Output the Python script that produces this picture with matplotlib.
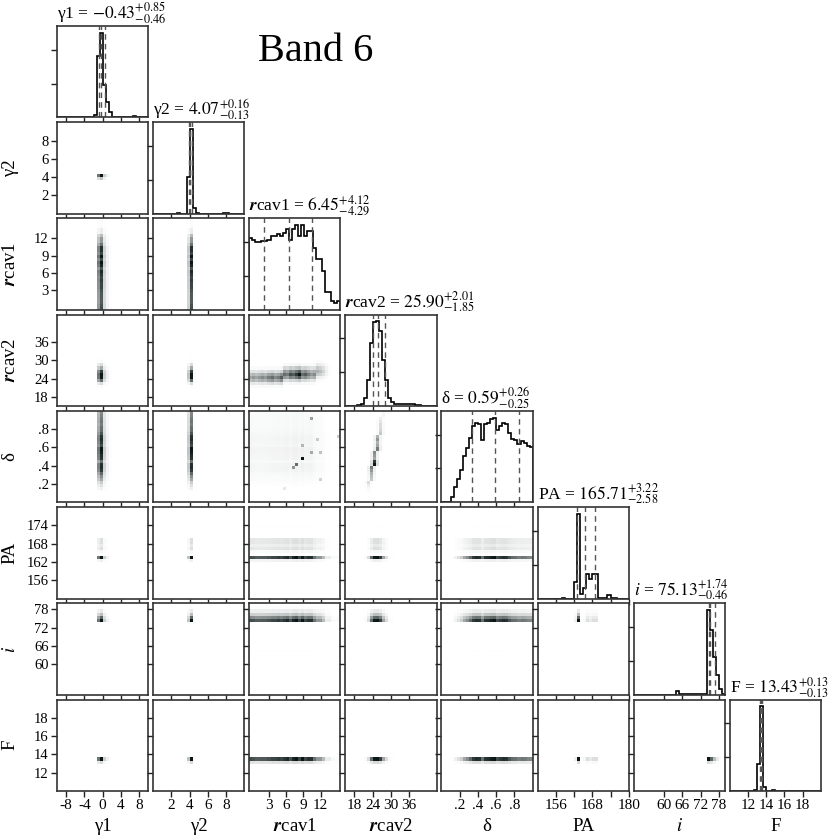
import numpy as np
import matplotlib.pyplot as plt
from matplotlib.colors import LinearSegmentedColormap, PowerNorm
from matplotlib.ticker import MaxNLocator

plt.rcParams['font.family'] = ['Liberation Serif', 'DejaVu Serif']
plt.rcParams['mathtext.fontset'] = 'stix'
plt.rcParams['axes.unicode_minus'] = False

# parametros do ajuste
names = ['γ1', 'γ2', r'$\mathbfit{r}$cav1', r'$\mathbfit{r}$cav2', 'δ', 'PA', r'$i$', 'F']
medians = [-0.43, 4.07, 6.45, 25.90, 0.59, 165.71, 75.13, 13.43]
err_up = [0.85, 0.16, 4.12, 2.01, 0.26, 3.22, 1.74, 0.13]
err_lo = [0.46, 0.13, 4.29, 1.85, 0.25, 2.58, 0.46, 0.13]
ranges = [(-10, 10), (0, 10), (-0.5, 15.5), (15, 45), (0, 1), (150, 180), (50, 80), (10, 20)]

xticks = [[-8, -4, 0, 4, 8], [2, 4, 6, 8], [3, 6, 9, 12], [18, 24, 30, 36],
          [0.2, 0.4, 0.6, 0.8], [156, 162, 168, 174, 180], [60, 66, 72, 78], [12, 14, 16, 18]]
xticklabels = [['-8', '-4', '0', '4', '8'], ['2', '4', '6', '8'], ['3', '6', '9', '12'],
               ['18', '24', '30', '36'], ['.2', '.4', '.6', '.8'], ['156', '', '168', '', '180'],
               ['60', '66', '72', '78'], ['12', '14', '16', '18']]
yticks = [[], [2, 4, 6, 8], [3, 6, 9, 12], [18, 24, 30, 36], [0.2, 0.4, 0.6, 0.8],
          [156, 162, 168, 174], [60, 66, 72, 78], [12, 14, 16, 18]]
yticklabels = [[], ['2', '4', '6', '8'], ['3', '6', '9', '12'], ['18', '24', '30', '36'],
               ['.2', '.4', '.6', '.8'], ['156', '162', '168', '174'],
               ['60', '66', '72', '78'], ['12', '14', '16', '18']]

# histogramas 1D (30 bins em cada intervalo), altura relativa
hist_g1 = [0, 0, 0, 0, 0, 0, 0, 0, 0, 0,
           0, 0, 0.03, 0.72, 1.0, 0.38, 0.18, 0.06, 0.01, 0.01,
           0, 0, 0, 0, 0, 0.02, 0, 0, 0, 0]
hist_g2 = [0, 0, 0, 0, 0, 0, 0, 0, 0.01, 0,
           0, 0.43, 1.0, 0.07, 0.01, 0, 0, 0, 0, 0,
           0, 0, 0, 0.01, 0.01, 0, 0, 0, 0, 0]
hist_rc1 = [0.85, 0.83, 0.80, 0.80, 0.81, 0.81, 0.83, 0.87, 0.87, 0.90,
            0.87, 0.91, 0.95, 0.83, 0.96, 1.0, 0.87, 1.0, 0.87, 0.93,
            0.93, 0.73, 0.60, 0.60, 0.46, 0.21, 0.21, 0.10, 0.08, 0.10]
hist_rc2 = [0, 0, 0, 0, 0.01, 0.03, 0.09, 0.31, 0.75, 0.99,
            1.0, 0.89, 0.55, 0.31, 0.09, 0.05, 0.02, 0.03, 0.02, 0.02,
            0.02, 0.02, 0.02, 0.01, 0.01, 0, 0, 0, 0, 0]
hist_delta = [0, 0, 0, 0.06, 0.18, 0.28, 0.38, 0.55, 0.64, 0.76,
              0.90, 0.94, 0.93, 0.74, 0.92, 0.94, 0.98, 1.0, 0.85, 0.90,
              0.94, 0.92, 0.82, 0.75, 0.74, 0.69, 0.72, 0.70, 0.67, 0.65]
hist_pa = [0, 0, 0, 0, 0, 0, 0, 0, 0.01, 0,
           0, 0, 0.19, 1.0, 0.05, 0.13, 0.29, 0.23, 0.29, 0.29,
           0.01, 0.01, 0.01, 0.04, 0.01, 0.01, 0, 0, 0, 0]
hist_inc = [0, 0, 0, 0, 0, 0, 0, 0, 0, 0,
            0, 0, 0, 0, 0.04, 0.01, 0.005, 0.005, 0.005, 0.005,
            0.005, 0.01, 0.005, 0.01, 1.0, 0.77, 0.45, 0.23, 0.07, 0.01]
hist_f = [0, 0, 0, 0, 0, 0, 0, 0, 0.01, 0.32,
          1.0, 0.05, 0, 0, 0.01, 0, 0, 0, 0, 0,
          0, 0, 0, 0, 0, 0, 0, 0, 0, 0]
hists = [hist_g1, hist_g2, hist_rc1, hist_rc2, hist_delta, hist_pa, hist_inc, hist_f]

# faixa rcav2 x rcav1: centro em rcav2 e intensidade por bin de rcav1
band_center = [24.2, 24.3, 24.3, 24.4, 24.5, 24.5, 24.6, 24.7, 24.8, 24.9,
               24.9, 25.0, 25.1, 25.2, 25.3, 25.3, 25.4, 25.5, 25.6, 25.7,
               25.8, 25.9, 26.1, 26.3, 26.5, 26.7, 26.8, 27.0, 27.1, 27.2]
band_weight = [0.55, 0.6, 0.55, 0.6, 0.65, 0.6, 0.7, 0.75, 0.65, 0.7,
               0.8, 0.75, 0.7, 0.85, 0.8, 0.9, 1.0, 0.75, 0.8, 0.7,
               0.6, 0.65, 0.5, 0.45, 0.35, 0.2, 0.08, 0.03, 0.02, 0.01]
band_offsets = [-3, -2, -1, 0, 1, 2, 3]
band_profile = [0.15, 0.4, 0.8, 1.0, 0.8, 0.45, 0.15]

# linha delta x rcav2: centro em rcav2 e intensidade por bin de delta
line_center = [21.7, 21.9, 22.1, 22.3, 22.5, 22.7, 22.9, 23.1, 23.3, 23.5,
               23.7, 23.9, 24.1, 24.3, 24.5, 24.6, 24.8, 25.0, 25.2, 25.4,
               25.6, 25.8, 26.0, 26.2, 26.3, 26.5, 26.7, 26.9, 27.1, 27.3]
line_weight = [0, 0, 0.02, 0.05, 0.12, 0.2, 0.3, 0.4, 0.45, 0.5,
               0.6, 0.7, 1.0, 0.9, 0.55, 0.6, 0.65, 0.7, 0.55, 0.5,
               0.6, 0.5, 0.4, 0.35, 0.3, 0.3, 0.25, 0.2, 0.15, 0.12]
line_offsets = [-1, 0, 1]
line_profile = [0.3, 1.0, 0.3]

# delta x rcav1: fundo fraco e alguns pixels escuros
spot_rc1 = [8.87, 7.76, 7.1, 10.4, 10.4, 12.1, 11.7, 8.87, 12.2, 5.5, 15.3]
spot_delta = [0.48, 0.41, 0.38, 0.91, 0.54, 0.54, 0.69, 0.62, 0.25, 0.15, 0.73]
spot_weight = [1.0, 0.7, 0.55, 0.55, 0.45, 0.4, 0.35, 0.4, 0.35, 0.25, 0.45]
background_level = 0.22

nbins = 30
edges = [np.linspace(lo, hi, nbins + 1) for lo, hi in ranges]
centers = [0.5 * (e[1:] + e[:-1]) for e in edges]

density_cmap = LinearSegmentedColormap.from_list('density', ['white', '#0a1616'])


def joint_samples(r, c):
    if (r, c) == (3, 2):
        xs, ys, ws = [], [], []
        for k in range(nbins):
            for d, p in zip(band_offsets, band_profile):
                xs.append(centers[2][k])
                ys.append(band_center[k] + d)
                ws.append(band_weight[k] * p)
        return np.array(xs), np.array(ys), np.array(ws)
    if (r, c) == (4, 3):
        xs, ys, ws = [], [], []
        for k in range(nbins):
            for d, p in zip(line_offsets, line_profile):
                xs.append(line_center[k] + d)
                ys.append(centers[4][k])
                ws.append(line_weight[k] * p)
        return np.array(xs), np.array(ys), np.array(ws)
    X, Y = np.meshgrid(centers[c], centers[r])
    W = np.outer(hists[r], hists[c])
    xs, ys, ws = X.ravel(), Y.ravel(), W.ravel()
    if (r, c) == (4, 2):
        ws = ws * background_level
        xs = np.concatenate([xs, spot_rc1])
        ys = np.concatenate([ys, spot_delta])
        ws = np.concatenate([ws, spot_weight])
    return xs, ys, ws


n = len(names)
fig, axes = plt.subplots(n, n, figsize=(8.3, 8.38), dpi=100)
fig.subplots_adjust(left=57 / 830, right=821 / 830, bottom=47 / 838, top=812 / 838,
                    wspace=0.053, hspace=0.053)

for r in range(n):
    for c in range(n):
        ax = axes[r, c]
        if c > r:
            ax.set_visible(False)
            continue
        if c == r:
            ax.hist(centers[c], bins=edges[c], weights=hists[c], histtype='step',
                    color='k', lw=1.2)
            q = [medians[c] - err_lo[c], medians[c], medians[c] + err_up[c]]
            for v in q:
                ax.axvline(v, color='#555555', ls=(0, (4, 3)), lw=1.0)
            ax.set_ylim(0, 1.08 * max(hists[c]))
            ax.yaxis.set_major_locator(MaxNLocator(3, prune='lower'))
            ax.set_yticklabels([])
            title = names[c] + ' = $%.2f^{+%.2f}_{-%.2f}$' % (medians[c], err_up[c], err_lo[c])
            title = title.replace('$-', '$\u2212')
            ax.set_title(title, fontsize=12.6, pad=3, loc='left')
        else:
            xs, ys, ws = joint_samples(r, c)
            H, _, _ = np.histogram2d(xs, ys, bins=[edges[c], edges[r]], weights=ws)
            ax.hist2d(xs, ys, bins=[edges[c], edges[r]], weights=ws,
                      cmap=density_cmap, norm=PowerNorm(1.6, vmin=0, vmax=H.max()))
            ax.set_ylim(ranges[r])
            ax.set_yticks(yticks[r])
            if c == 0:
                ax.set_yticklabels(yticklabels[r])
                ax.set_ylabel(names[r], fontsize=13.5)
                ax.yaxis.set_label_coords(-0.42, 0.5)
            else:
                ax.set_yticklabels([])
        ax.set_xlim(ranges[c])
        ax.set_xticks(xticks[c])
        if r == n - 1:
            ax.set_xticklabels(xticklabels[c])
            ax.set_xlabel(names[c], fontsize=13.5)
            ax.xaxis.set_label_coords(0.5, -0.3)
        else:
            ax.set_xticklabels([])
        ax.tick_params(direction='out', length=4, width=1, colors='#222222',
                       labelcolor='k', pad=2)
        ax.tick_params(axis='x', labelsize=11)
        ax.tick_params(axis='y', labelsize=10.5)
        for s in ax.spines.values():
            s.set_color('#333333')
            s.set_linewidth(1.2)

fig.text(0.38, 0.938, 'Band 6', fontsize=29, ha='center', va='center')

fig.savefig('out.png', dpi=100)
